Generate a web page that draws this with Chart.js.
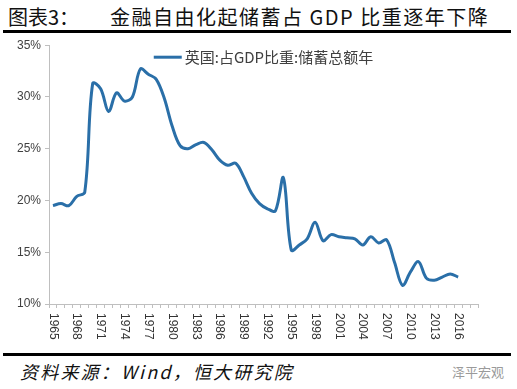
<!DOCTYPE html>
<html>
<head>
<meta charset="utf-8">
<script src="https://cdn.jsdelivr.net/npm/chart.js@4"></script>
<style>
  body { margin: 0; width: 517px; height: 389px; background: #fff; position: relative; overflow: hidden; }
  .title1, .title2 { position: absolute; top: 2px; font-family: "Noto Sans CJK SC"; font-size: 20px; color: #111; white-space: nowrap; }
  .title1 { left: 8px; }
  .title2 { left: 110px; letter-spacing: 1.5px; }
  .rule { position: absolute; left: 3px; width: 508px; height: 3px; background: #000; }
  .source { position: absolute; left: 20px; top: 358px; font-family: "Noto Sans CJK SC"; font-size: 18px; font-style: italic; letter-spacing: 2.2px; color: #111; white-space: nowrap; }
  .mark { position: absolute; left: 452px; top: 362px; font-family: "Noto Sans CJK SC"; font-size: 13px; color: #9a9a9a; }
  #wrap { position: absolute; left: 0; top: 34px; width: 517px; height: 318px; }
</style>
</head>
<body>
<div class="title1">图表3：</div>
<div class="title2">金融自由化起储蓄占 GDP 比重逐年下降</div>
<div class="rule" style="top:30px"></div>
<div id="wrap"><canvas id="chart" width="517" height="318"></canvas></div>
<div class="rule" style="top:353px"></div>
<div class="source">资料来源：Wind，恒大研究院</div>
<div class="mark">泽平宏观</div>
<script>

// years on the category axis (axis runs a bit past the last value)
const years = [];
for (let y = 1965; y <= 2018; y++) years.push(y);

// UK gross savings, % of GDP
const savingRate = [
    19.5, 19.7, 19.5, 20.4, 20.8, 31.3, 30.8, 28.6, 30.4, 29.6,   // 1965-1974
    30.0, 32.7, 32.2, 31.7, 29.9, 27.2, 25.3, 25.0, 25.4, 25.6,   // 1975-1984
    24.9, 23.9, 23.4, 23.6, 22.3, 20.7, 19.7, 19.2, 19.0, 22.2,   // 1985-1994
    15.2, 15.7, 16.3, 17.9, 16.1, 16.7, 16.5, 16.4, 16.3, 15.7,   // 1995-2004
    16.5, 15.9, 16.2, 14.0, 11.8, 13.1, 14.1, 12.5, 12.3, 12.6,   // 2005-2014
    12.9, 12.6, null, null                                        // 2015-2018
];

// year labels shown under the axis
const tickYears = [1965, 1968, 1971, 1974, 1977, 1980, 1983, 1986, 1989,
                   1992, 1995, 1998, 2001, 2004, 2007, 2010, 2013, 2016];

const seriesName = '英国:占GDP比重:储蓄总额年';
const lineColor = '#2a6fa8';
const axisColor = '#bfbfbf';

// x labels read top-to-bottom, so draw them ourselves
const xLabelPlugin = {
    id: 'xLabels',
    afterDraw(chart) {
        const xs = chart.scales.x;
        const ctx = chart.ctx;
        ctx.save();
        ctx.font = '12px "Liberation Sans", Arial, sans-serif';
        ctx.fillStyle = '#333';
        ctx.textAlign = 'left';
        ctx.textBaseline = 'middle';
        years.forEach((yr, i) => {
            if (!tickYears.includes(yr)) return;
            const x = xs.getPixelForValue(i);
            ctx.save();
            ctx.translate(x, xs.top + 9);
            ctx.rotate(Math.PI / 2);
            ctx.fillText(String(yr), 0, 0);
            ctx.restore();
        });
        ctx.restore();
    }
};

// legend sits inside the plot, centred near the top
const legendPlugin = {
    id: 'insideLegend',
    afterDraw(chart) {
        const area = chart.chartArea;
        const ctx = chart.ctx;
        ctx.save();
        ctx.font = '15px "Noto Sans CJK SC"';
        const textW = ctx.measureText(seriesName).width;
        const lineW = 28, gap = 3;
        const left = (area.left + area.right) / 2 - (lineW + gap + textW) / 2;
        const y = area.top + 12;
        ctx.strokeStyle = lineColor;
        ctx.lineWidth = 3;
        ctx.beginPath();
        ctx.moveTo(left, y);
        ctx.lineTo(left + lineW, y);
        ctx.stroke();
        ctx.fillStyle = '#404040';
        ctx.textBaseline = 'middle';
        ctx.fillText(seriesName, left + lineW + gap, y);
        ctx.restore();
    }
};

const ctx = document.getElementById('chart');
new Chart(ctx, {
    type: 'line',
    data: {
        labels: years.map(String),
        datasets: [{
            label: seriesName,
            data: savingRate,
            borderColor: lineColor,
            backgroundColor: lineColor,
            borderWidth: 3,
            pointRadius: 0,
            tension: 0.35,
            fill: false
        }]
    },
    plugins: [xLabelPlugin, legendPlugin],
    options: {
        responsive: false,
        devicePixelRatio: 1,
        animation: false,
        layout: { padding: { top: 9, right: 39, left: 0, bottom: 0 } },
        scales: {
            x: {
                offset: true,
                grid: { offset: true, drawOnChartArea: false, tickLength: 4, color: axisColor },
                border: { color: axisColor },
                ticks: { display: false },
                afterFit: (scale) => { scale.height = 48; }
            },
            y: {
                min: 10,
                max: 35,
                grid: { drawOnChartArea: false, tickLength: 4, color: axisColor },
                border: { color: axisColor },
                ticks: {
                    stepSize: 5,
                    padding: 4,
                    color: '#404040',
                    font: { family: '"Liberation Sans", Arial, sans-serif', size: 12 },
                    callback: (v) => v + '%'
                },
                afterFit: (scale) => { scale.width = 49; }
            }
        },
        plugins: {
            legend: { display: false },
            tooltip: { enabled: false }
        }
    }
});
</script>
</body>
</html>
